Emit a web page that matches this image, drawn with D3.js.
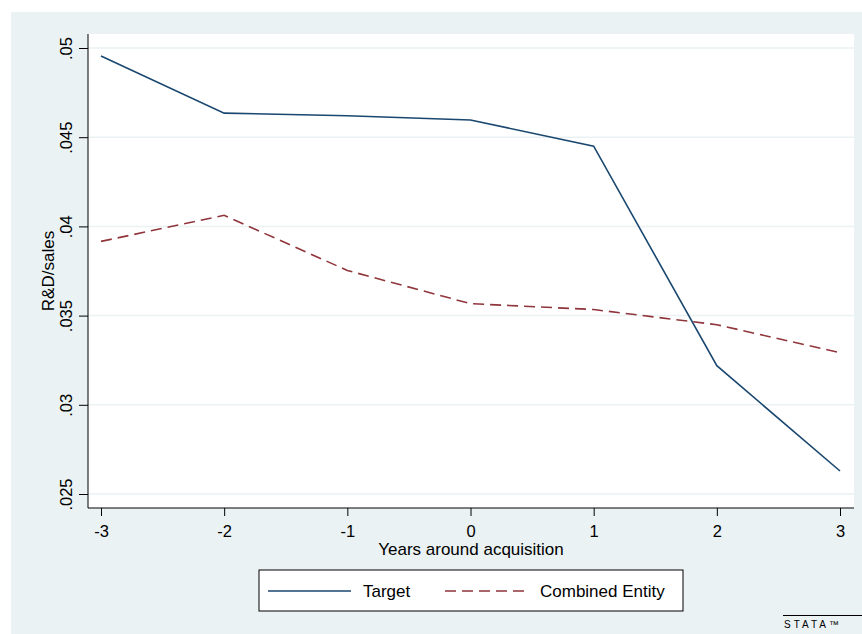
<!DOCTYPE html>
<html>
<head>
<meta charset="utf-8">
<script src="https://cdn.jsdelivr.net/npm/d3@7"></script>
<style>
  body { margin: 0; background: #fff; }
  text { font-family: "Liberation Sans", Arial, sans-serif; fill: #000; }
</style>
</head>
<body>
<div id="chart"></div>
<script>
// Datos
const years = [-3, -2, -1, 0, 1, 2, 3];
const target = [0.04955, 0.04635, 0.0462, 0.04596, 0.0445, 0.03219, 0.02629];
const combined = [0.03916, 0.04062, 0.03753, 0.03567, 0.03534, 0.03449, 0.03292];
const yTicks = [0.025, 0.03, 0.035, 0.04, 0.045, 0.05];
const yTickLabels = [".025", ".03", ".035", ".04", ".045", ".05"];
const seriesNames = ["Target", "Combined Entity"];

const W = 862, H = 634;
const plot = { left: 88, right: 854, top: 34, bottom: 508 };

const svg = d3.select("#chart").append("svg")
  .attr("width", W).attr("height", H);

// Fondo gris-azulado
svg.append("rect").attr("x", 11).attr("y", 12)
  .attr("width", W - 11).attr("height", H - 12).attr("fill", "#eaf2f3");
svg.append("rect").attr("x", plot.left).attr("y", plot.top)
  .attr("width", plot.right - plot.left).attr("height", plot.bottom - plot.top)
  .attr("fill", "#fff");

const x = d3.scaleLinear().domain([-3, 3]).range([101, 840]);
const y = d3.scaleLinear().domain([0.025, 0.05]).range([494, 48]);

// Rejilla
svg.append("g").selectAll("line").data(yTicks).enter().append("line")
  .attr("x1", plot.left).attr("x2", plot.right)
  .attr("y1", d => y(d)).attr("y2", d => y(d))
  .attr("stroke", "#eaf2f3").attr("stroke-width", 1.5);

// Ejes
const yAxis = svg.append("g").attr("transform", `translate(${plot.left},0)`)
  .call(d3.axisLeft(y).tickValues(yTicks).tickSize(9)
    .tickFormat((d, i) => yTickLabels[i]));
yAxis.select(".domain").remove();
yAxis.append("line").attr("x1", 0).attr("x2", 0)
  .attr("y1", plot.top).attr("y2", plot.bottom).attr("stroke", "#000");
yAxis.selectAll(".tick line").attr("stroke", "#000");
yAxis.selectAll(".tick text")
  .attr("font-size", 16.5)
  .attr("transform", "rotate(-90)")
  .attr("x", 0).attr("y", -16).attr("dy", 0)
  .style("text-anchor", "middle");

const xAxis = svg.append("g").attr("transform", `translate(0,${plot.bottom})`)
  .call(d3.axisBottom(x).tickValues(years).tickSize(8)
    .tickFormat(d3.format("d")));
xAxis.select(".domain").remove();
xAxis.append("line").attr("x1", plot.left).attr("x2", plot.right)
  .attr("y1", 0).attr("y2", 0).attr("stroke", "#000");
xAxis.selectAll(".tick line").attr("stroke", "#000");
xAxis.selectAll(".tick text").attr("font-size", 16.5)
  .attr("y", 29).attr("dy", 0)
  .text(d => d < 0 ? "-" + Math.abs(d) : d);

// Títulos
svg.append("text").attr("x", 471).attr("y", 555)
  .attr("text-anchor", "middle").attr("font-size", 17)
  .text("Years around acquisition");
svg.append("text")
  .attr("transform", `translate(54,${(plot.top + plot.bottom) / 2}) rotate(-90)`)
  .attr("text-anchor", "middle").attr("font-size", 17)
  .text("R&D/sales");

// Líneas
const line = d3.line().x((d, i) => x(years[i])).y(d => y(d));
svg.append("path").datum(target).attr("d", line)
  .attr("fill", "none").attr("stroke", "#1a476f").attr("stroke-width", 1.6);
svg.append("path").datum(combined).attr("d", line)
  .attr("fill", "none").attr("stroke", "#90353b").attr("stroke-width", 1.6)
  .attr("stroke-dasharray", "11,6");

// Leyenda
const lg = svg.append("g");
lg.append("rect").attr("x", 259).attr("y", 570).attr("width", 424).attr("height", 41)
  .attr("fill", "#fff").attr("stroke", "#000");
const legendItems = [
  { name: seriesNames[0], color: "#1a476f", dash: null, x0: 268 },
  { name: seriesNames[1], color: "#90353b", dash: "11,6", x0: 445 }
];
legendItems.forEach(it => {
  lg.append("line").attr("x1", it.x0).attr("x2", it.x0 + 83)
    .attr("y1", 591).attr("y2", 591)
    .attr("stroke", it.color).attr("stroke-width", 1.6)
    .attr("stroke-dasharray", it.dash);
  lg.append("text").attr("x", it.x0 + 95).attr("y", 597)
    .attr("font-size", 17).text(it.name);
});

// Logo Stata
svg.append("line").attr("x1", 783).attr("x2", 862).attr("y1", 615.5).attr("y2", 615.5)
  .attr("stroke", "#000").attr("stroke-width", 1);
svg.append("text").attr("x", 784).attr("y", 628).attr("font-size", 10)
  .attr("letter-spacing", 3).text("STATA™");
</script>
</body>
</html>
